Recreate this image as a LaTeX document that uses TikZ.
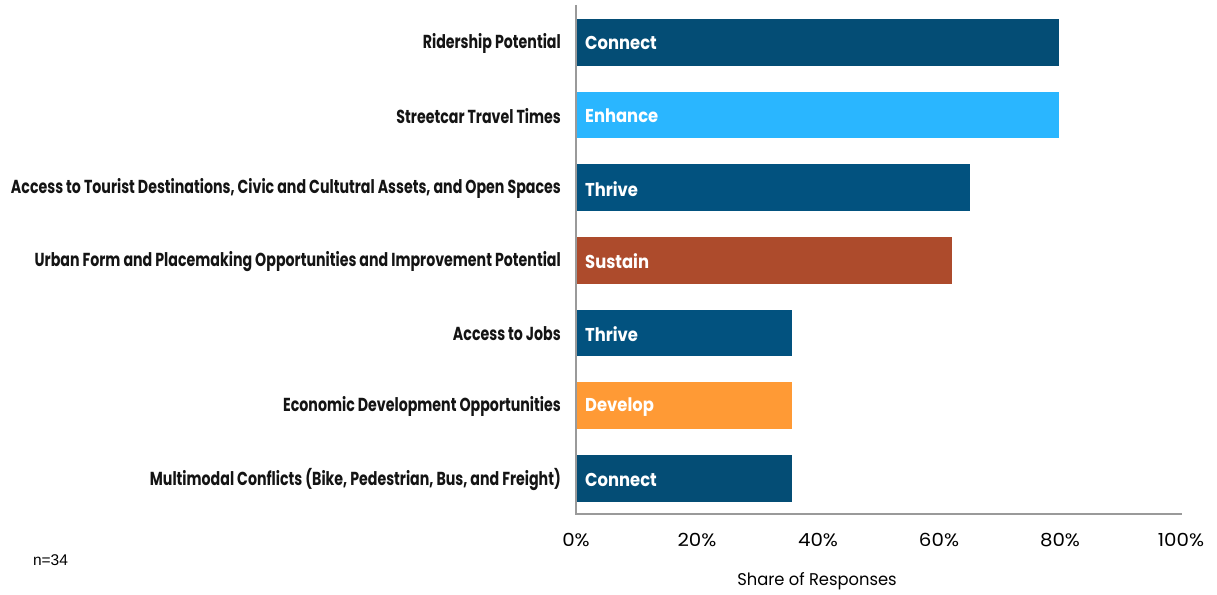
\documentclass[tikz,border=0pt]{standalone}
\usepackage{fontspec}
\setmainfont{Poppins}
\newfontfamily\catfont[FakeStretch=0.755]{Poppins}
\newfontfamily\tagfont[FakeStretch=0.88]{Poppins}
\newfontfamily\tickfont[FakeStretch=1.10]{Poppins}
\newfontfamily\titlefont[FakeStretch=0.96]{Poppins}
\newfontfamily\notefont{Liberation Sans}
\definecolor{connect}{HTML}{044D75}
\definecolor{thrive}{HTML}{02527F}
\definecolor{enhance}{HTML}{2AB6FF}
\definecolor{sustain}{HTML}{AD4B2C}
\definecolor{develop}{HTML}{FF9A35}
\definecolor{axisgray}{HTML}{9A9A9A}
\begin{document}
\begin{tikzpicture}[x=1pt,y=-1pt,
  cat/.style={anchor=east,inner sep=0pt,text=black!92,font=\catfont\bfseries\fontsize{18.8}{20}\selectfont},
  tag/.style={anchor=west,inner sep=0pt,text=white,font=\tagfont\bfseries\fontsize{18.6}{20}\selectfont},
  tick/.style={font=\tickfont\fontsize{18}{20}\selectfont}]
\useasboundingbox (0,0) rectangle (1217,594);
% bars, top to bottom
\foreach \w/\c/\t/\l [count=\i] in {
  79.8/connect/Connect/Ridership Potential,
  79.8/enhance/Enhance/Streetcar Travel Times,
  65.1/thrive/Thrive/{Access to Tourist Destinations, Civic and Cultutral Assets, and Open Spaces},
  62.1/sustain/Sustain/Urban Form and Placemaking Opportunities and Improvement Potential,
  35.7/thrive/Thrive/Access to Jobs,
  35.7/develop/Develop/Economic Development Opportunities,
  35.7/connect/Connect/{Multimodal Conflicts (Bike, Pedestrian, Bus, and Freight)}}
{
  \pgfmathsetmacro\yc{42.3+(\i-1)*72.7}
  \fill[\c] (576.5,\yc-23.35) rectangle (576.5+6.05*\w,\yc+23.35);
  \node[tag] (tag\i) at (585,\yc+1) {\t};
  \node[cat] (cat\i) at (561,\yc+1) {\l};
}
% axes
\draw[axisgray,line width=1.4pt] (576,5) -- (576,514) -- (1182,514);
\foreach \p [count=\j] in {0,20,...,100}
  \node[tick] (tick\j) at (576+6.05*\p,540) {\p\%};
\node[font=\titlefont\fontsize{17}{19}\selectfont] (xtitle) at (817,581) {Share of Responses};
\node[font=\notefont\fontsize{15.5}{17}\selectfont] (nnote) at (50.5,560) {n=34};
\end{tikzpicture}
\end{document}
